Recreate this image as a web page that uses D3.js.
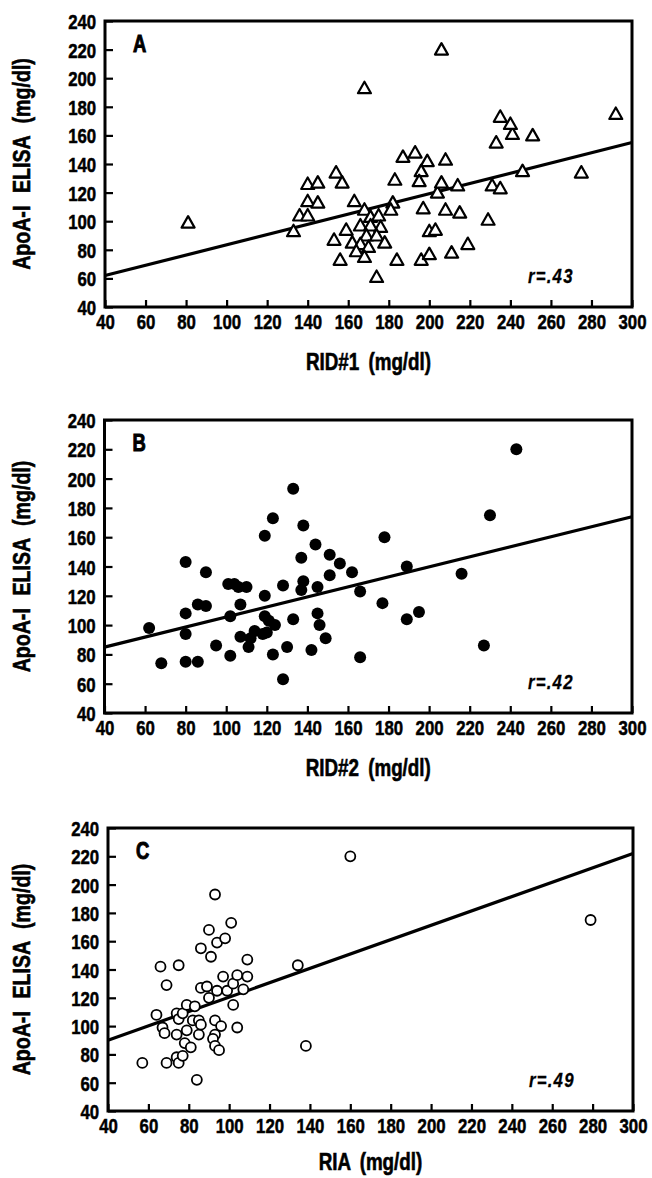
<!DOCTYPE html>
<html>
<head>
<meta charset="utf-8">
<script src="https://cdn.jsdelivr.net/npm/d3@7"></script>
<style>
  body { margin: 0; background: #fff; }
  svg text { fill: #000; stroke: #000; font-family: "Liberation Sans", Arial, sans-serif; font-weight: bold; }
  .tick-label { font-size: 21px; stroke-width: 0.5px; }
  .axis-title { font-size: 23.5px; stroke-width: 0.6px; word-spacing: 5px; }
  .y-title { font-size: 24.5px; word-spacing: 9px; }
  .panel-letter { font-size: 23px; stroke-width: 1px; }
  .r-label { font-style: italic; font-size: 21px; stroke-width: 0.3px; letter-spacing: 1.5px; }
</style>
</head>
<body>
<div id="chart"></div>
<script>
// tick values shared by the three panels
const xTicks = [40, 60, 80, 100, 120, 140, 160, 180, 200, 220, 240, 260, 280, 300];
const yTicks = [40, 60, 80, 100, 120, 140, 160, 180, 200, 220, 240];

const yTitle = "ApoA-I ELISA (mg/dl)";

// A: RID#1 vs ELISA (open triangles)
const ridOnePoints = [
  [81, 99], [133, 93], [140, 126], [145, 127], [140, 114], [145, 113], [136, 104], [140, 104],
  [154, 134], [157, 127], [153, 87], [156, 73], [159, 94],
  [163, 114], [168, 108], [171, 103], [175, 104], [166, 97], [171, 97], [176, 96], [169, 90],
  [174, 90], [162, 85], [166, 84], [170, 82], [178, 85], [164, 79], [168, 75], [174, 61],
  [182, 113], [181, 108], [183, 129], [184, 73], [187, 145], [193, 148], [199, 142], [196, 135],
  [195, 128], [208, 143], [197, 109], [200, 93], [203, 94], [196, 73], [200, 77], [204, 120],
  [206, 127], [208, 108], [214, 125], [215, 106], [211, 78], [219, 84], [229, 101], [231, 125],
  [235, 123], [246, 135], [233, 155], [241, 161], [251, 160],
  [206, 220], [168, 193], [235, 173], [240, 168], [292, 175], [275, 134]
];
const ridOneFit = [[40, 62], [300, 155]];

// B: RID#2 vs ELISA (filled circles)
const ridTwoPoints = [
  [62, 98], [68, 74], [80, 143], [80, 108], [80, 94], [80, 75], [86, 75], [86, 114], [90, 113],
  [90, 136], [95, 86], [101, 128], [104, 128], [106, 126], [110, 126], [102, 106], [107, 114],
  [102, 79], [107, 92], [111, 85],
  [112, 91], [114, 96], [118, 94], [120, 95], [119, 106], [121, 103], [124, 100], [119, 120],
  [123, 173], [119, 161], [123, 80], [128, 127], [130, 85], [128, 63], [133, 104], [133, 193],
  [138, 168], [137, 146], [138, 130], [137, 124], [144, 155], [145, 126], [145, 108], [146, 100],
  [149, 91], [142, 83], [151, 148], [151, 134], [156, 142], [162, 136],
  [243, 220], [230, 175], [178, 160], [166, 123], [189, 140], [216, 135], [177, 115], [189, 104],
  [195, 109], [166, 78], [227, 86]
];
const ridTwoFit = [[40, 85], [300, 174]];

// C: RIA vs ELISA (open circles)
const riaPoints = [
  [57, 74], [64, 108], [67, 99], [68, 95], [66, 142], [69, 129], [69, 74], [74, 109], [75, 105],
  [75, 143], [74, 94], [74, 78], [75, 74], [77, 79], [77, 109], [79, 115], [79, 97], [78, 88],
  [81, 85], [83, 114], [84, 62], [82, 104], [85, 104], [85, 94], [86, 101], [86, 155], [86, 127],
  [89, 128], [90, 120], [90, 168], [91, 149], [93, 193], [94, 159], [98, 162], [101, 173],
  [109, 147], [97, 135], [94, 125], [99, 125], [102, 130], [104, 136], [109, 135], [107, 126],
  [102, 115], [104, 99], [93, 104], [93, 94], [92, 91], [93, 86], [95, 83], [96, 100],
  [134, 143], [138, 86], [160, 220], [279, 175]
];
const riaFit = [[40, 90], [300, 222]];

const panels = [
  { letter: "A", r: "r=.43", xTitle: "RID#1 (mg/dl)", points: ridOnePoints, fit: ridOneFit, marker: "triangle",
    box: { left: 105, right: 632, top: 21, bottom: 307 } },
  { letter: "B", r: "r=.42", xTitle: "RID#2 (mg/dl)", points: ridTwoPoints, fit: ridTwoFit, marker: "dot",
    box: { left: 104.5, right: 632, top: 420, bottom: 713 } },
  { letter: "C", r: "r=.49", xTitle: "RIA (mg/dl)", points: riaPoints, fit: riaFit, marker: "ring",
    box: { left: 108, right: 633, top: 828, bottom: 1111 } }
];

// the printed type is a condensed bold face
const squeeze = "scale(0.8, 1)";

const svg = d3.select("#chart").append("svg")
    .attr("width", 652)
    .attr("height", 1178);

function renderPanel(p) {
    const b = p.box;
    const g = svg.append("g");

    const x = d3.scaleLinear().domain([40, 300]).range([b.left, b.right]);
    const y = d3.scaleLinear().domain([40, 240]).range([b.bottom, b.top]);

    // ticks point into the plot
    const xAxis = g.append("g")
        .attr("transform", `translate(0, ${b.bottom})`)
        .call(d3.axisBottom(x).tickValues(xTicks).tickSizeInner(-7).tickSizeOuter(0).tickPadding(7));
    xAxis.select(".domain").remove();
    xAxis.selectAll("line").attr("stroke", "#000").attr("stroke-width", 2.2);
    xAxis.selectAll("text")
        .attr("class", "tick-label")
        .attr("transform", squeeze);

    const yAxis = g.append("g")
        .attr("transform", `translate(${b.left}, 0)`)
        .call(d3.axisLeft(y).tickValues(yTicks).tickSizeInner(-8).tickSizeOuter(0).tickPadding(11));
    yAxis.select(".domain").remove();
    yAxis.selectAll("line").attr("stroke", "#000").attr("stroke-width", 2.2);
    yAxis.selectAll("text")
        .attr("class", "tick-label")
        .attr("dy", "0.36em")
        .attr("transform", squeeze);

    g.selectAll(".tick text").attr("font-family", null).attr("font-size", null);

    g.append("rect")
        .attr("x", b.left)
        .attr("y", b.top)
        .attr("width", b.right - b.left)
        .attr("height", b.bottom - b.top)
        .attr("fill", "none")
        .attr("stroke", "#000")
        .attr("stroke-width", 3);

    g.append("path")
        .datum(p.fit)
        .attr("d", d3.line().x(d => x(d[0])).y(d => y(d[1])))
        .attr("stroke", "#000")
        .attr("stroke-width", 3.2)
        .attr("fill", "none");

    const marks = g.selectAll(".mark")
        .data(p.points)
        .enter();

    if (p.marker === "triangle") {
        marks.append("path")
            .attr("d", "M0,-6.5L6.5,5L-6.5,5Z")
            .attr("transform", d => `translate(${x(d[0])}, ${y(d[1])})`)
            .attr("fill", "#fff")
            .attr("stroke", "#000")
            .attr("stroke-width", 2.2)
            .attr("stroke-linejoin", "round");
    } else if (p.marker === "dot") {
        marks.append("circle")
            .attr("cx", d => x(d[0]))
            .attr("cy", d => y(d[1]))
            .attr("r", 6)
            .attr("fill", "#000");
    } else {
        marks.append("circle")
            .attr("cx", d => x(d[0]))
            .attr("cy", d => y(d[1]))
            .attr("r", 5)
            .attr("fill", "#fff")
            .attr("stroke", "#000")
            .attr("stroke-width", 1.8);
    }

    g.append("text")
        .attr("class", "panel-letter")
        .attr("transform", `translate(${b.left + 28}, ${b.top + 31}) ${squeeze}`)
        .text(p.letter);

    g.append("text")
        .attr("class", "r-label")
        .attr("transform", `translate(${b.right - 104}, ${b.bottom - 24}) ${squeeze}`)
        .text(p.r);

    // bottom panel title sits close to the page edge
    const titleY = Math.min(b.bottom + 63, 1170);
    g.append("text")
        .attr("class", "axis-title")
        .attr("transform", `translate(${(b.left + b.right) / 2}, ${titleY}) ${squeeze}`)
        .attr("text-anchor", "middle")
        .text(p.xTitle);

    g.append("text")
        .attr("class", "axis-title y-title")
        .attr("transform", `translate(30, ${(b.top + b.bottom) / 2}) rotate(-90) ${squeeze}`)
        .attr("text-anchor", "middle")
        .text(yTitle);
}

panels.forEach(renderPanel);
</script>
</body>
</html>
